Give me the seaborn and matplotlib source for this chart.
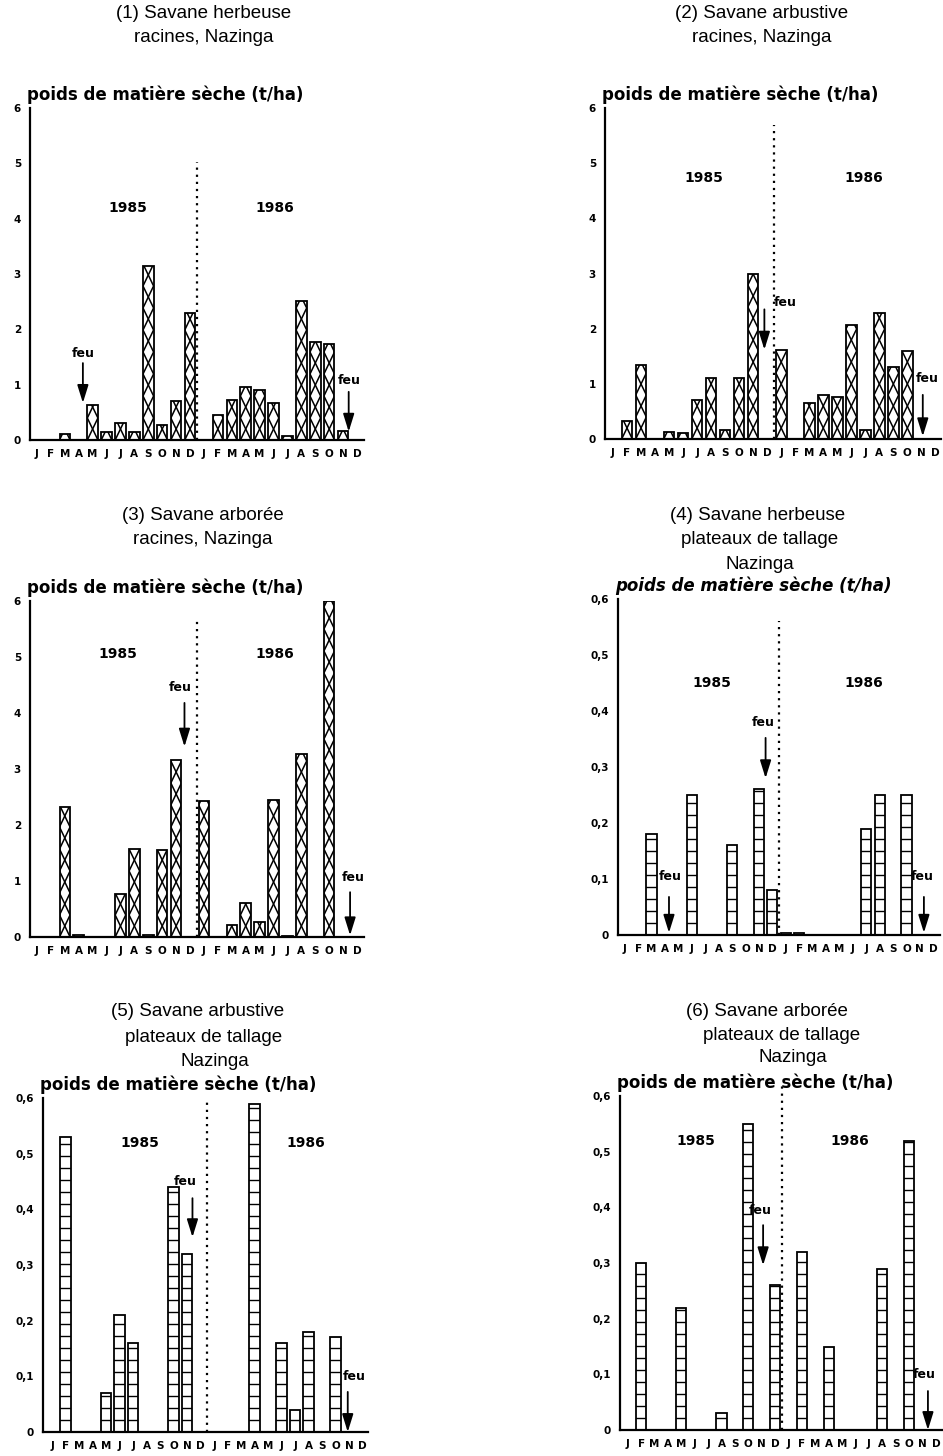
import matplotlib
matplotlib.use("Agg")
import matplotlib.pyplot as plt
import numpy as np
import pandas as pd
import seaborn as sns

# month labels, two years side by side
MONTHS = ["J", "F", "M", "A", "M", "J", "J", "A", "S", "O", "N", "D"] * 2
YEARS = ["1985", "1986"]
YLABEL = "poids de matière sèche (t/ha)"
YTICKS_ROOTS = ["0", "1", "2", "3", "4", "5", "6"]
YTICKS_TILLERS = ["0", "0,1", "0,2", "0,3", "0,4", "0,5", "0,6"]

# dry matter (t/ha), Jan 1985 .. Dec 1986
roots_herb = [0, 0, 0.10, 0, 0.64, 0.15, 0.30, 0.15, 3.14, 0.27, 0.70, 2.29,
              0, 0.46, 0.73, 0.95, 0.91, 0.66, 0.07, 2.52, 1.77, 1.74, 0.17, 0]
roots_shrub = [0, 0.33, 1.35, 0, 0.13, 0.11, 0.70, 1.10, 0.17, 1.11, 3.00, 0,
               1.62, 0, 0.65, 0.79, 0.76, 2.07, 0.16, 2.28, 1.31, 1.60, 0, 0]
roots_tree = [0, 0, 2.33, 0.03, 0, 0, 0.76, 1.58, 0.03, 1.55, 3.16, 0,
              2.43, 0, 0.22, 0.60, 0.27, 2.44, 0.02, 3.26, 0, 6.00, 0, 0]
tillers_herb = [0, 0, 0.18, 0, 0, 0.25, 0, 0, 0.16, 0, 0.26, 0.08,
                0.004, 0.004, 0, 0, 0, 0, 0.19, 0.25, 0, 0.25, 0, 0]
tillers_shrub = [0, 0.53, 0, 0, 0.07, 0.21, 0.16, 0, 0, 0.44, 0.32, 0,
                 0, 0, 0, 0.59, 0, 0.16, 0.04, 0.18, 0, 0.17, 0, 0]
tillers_tree = [0, 0.30, 0, 0, 0.22, 0, 0, 0.03, 0, 0.55, 0, 0.26,
                0, 0.32, 0, 0.15, 0, 0, 0, 0.29, 0, 0.52, 0, 0]

sns.set_theme(style="white")
plt.rcParams["font.family"] = ["Liberation Sans", "DejaVu Sans"]

W, H = 943, 1456
fig = plt.figure(figsize=(W / 100, H / 100), dpi=100)

# layout in pixels: box = (left, right, top, bottom) of the axes
panels = [
    dict(values=roots_herb, box=(30, 364, 108, 440), xlim=(-0.5, 23.5), ymax=6,
         kind="cross", italic=False,
         title=[("(1) Savane herbeuse", 204, 13), ("racines, Nazinga", 204, 38)],
         years=[(6.5, 4.2), (17.1, 4.2)], divider=5.03,
         feu=[(3.3, 1.57, 1.39, 0.67), (22.4, 1.08, 0.87, 0.15)]),
    dict(values=roots_shrub, box=(605, 941, 108, 439), xlim=(-0.57, 23.4), ymax=6,
         kind="cross", italic=False,
         title=[("(2) Savane arbustive", 762, 13), ("racines, Nazinga", 762, 38)],
         years=[(6.5, 4.74), (17.9, 4.74)], divider=5.7,
         feu=[(12.25, 2.47, 2.35, 1.62, 10.8), (22.4, 1.1, 0.8, 0.05, 22.1)]),
    dict(values=roots_tree, box=(30, 364, 601, 937), xlim=(-0.5, 23.5), ymax=6,
         kind="cross", italic=False,
         title=[("(3) Savane arborée", 203, 515), ("racines, Nazinga", 203, 540)],
         years=[(5.8, 5.05), (17.1, 5.05)], divider=5.7,
         feu=[(10.3, 4.45, 4.18, 3.40, 10.6), (22.7, 1.07, 0.8, 0.03, 22.5)]),
    dict(values=tillers_herb, box=(618, 940, 599, 935), xlim=(-0.5, 23.5), ymax=0.6,
         kind="square", italic=True,
         title=[("(4) Savane herbeuse", 758, 515), ("plateaux de tallage", 760, 540),
                ("Nazinga", 760, 565)],
         years=[(6.5, 0.45), (17.8, 0.45)], divider=0.56,
         feu=[(3.4, 0.105, 0.068, 0.004, 3.3), (10.3, 0.38, 0.352, 0.28, 10.5),
              (22.2, 0.105, 0.068, 0.004, 22.3)]),
    dict(values=tillers_shrub, box=(43, 368, 1098, 1432), xlim=(-0.67, 23.4), ymax=0.6,
         kind="square", italic=False,
         title=[("(5) Savane arbustive", 198, 1012), ("plateaux de tallage", 204, 1037),
                ("Nazinga", 215, 1062)],
         years=[(6.5, 0.52), (18.8, 0.52)], divider=0.6,
         feu=[(9.85, 0.45, 0.42, 0.35, 10.4), (22.35, 0.1, 0.072, 0.0, 21.9)]),
    dict(values=tillers_tree, box=(620, 942, 1096, 1430), xlim=(-0.58, 23.45), ymax=0.6,
         kind="square", italic=False,
         title=[("(6) Savane arborée", 767, 1011), ("plateaux de tallage", 782, 1035),
                ("Nazinga", 793, 1058)],
         years=[(5.1, 0.52), (16.6, 0.52)], divider=0.624,
         feu=[(9.9, 0.395, 0.368, 0.296, 10.1), (22.1, 0.1, 0.07, 0.0, 22.4)]),
]

BOLD = dict(family="DejaVu Sans", fontweight="bold", color="black")


def hatch_bars(ax, kind, cell):
    # draw the diamond chain / stacked squares inside every bar
    for p in list(ax.patches):
        x0, w, h = p.get_x(), p.get_width(), p.get_height()
        if h <= 0:
            continue
        n = int(np.ceil(h / cell)) + 1
        ys = np.arange(n + 1) * cell
        if kind == "cross":
            even = np.arange(n + 1) % 2 == 0
            for xs in (np.where(even, x0, x0 + w), np.where(even, x0 + w, x0)):
                (line,) = ax.plot(xs, ys, color="black", lw=1.1, zorder=3)
                line.set_clip_path(p)
        else:
            for y in ys[1:]:
                (line,) = ax.plot([x0, x0 + w], [y, y], color="black", lw=1.0, zorder=3)
                line.set_clip_path(p)


for spec in panels:
    left, right, top, bottom = spec["box"]
    ax = fig.add_axes([left / W, 1 - bottom / H, (right - left) / W, (bottom - top) / H])

    df = pd.DataFrame({"month": range(24), "value": spec["values"]})
    df = df[df["value"] > 0]
    sns.barplot(data=df, x="month", y="value", order=list(range(24)), color="white",
                saturation=1, edgecolor="black", linewidth=1.3, width=0.76,
                errorbar=None, ax=ax)

    ymax = spec["ymax"]
    cell_px = 22 if spec["kind"] == "cross" else 12
    hatch_bars(ax, spec["kind"], cell_px / (bottom - top) * ymax)

    ax.set_xlim(*spec["xlim"])
    ax.set_ylim(0, ymax)
    ax.set_xlabel("")
    ax.set_ylabel("")
    ax.set_facecolor("none")
    ax.set_xticks(range(24))
    ax.set_xticklabels(MONTHS, fontsize=7.5, **BOLD)
    ax.set_yticks(np.linspace(0, ymax, 7))
    ax.set_yticklabels(YTICKS_ROOTS if ymax > 1 else YTICKS_TILLERS, fontsize=7.5, **BOLD)
    ax.tick_params(axis="both", direction="inout", length=7, width=1.2, color="black", pad=3)
    for side in ("top", "right"):
        ax.spines[side].set_visible(False)
    for side in ("left", "bottom"):
        ax.spines[side].set_color("black")
        ax.spines[side].set_linewidth(1.6)

    ax.annotate(YLABEL, xy=(0, 1), xycoords="axes fraction", xytext=(-3, 13),
                textcoords="offset pixels", ha="left", va="center", fontsize=12,
                style="italic" if spec["italic"] else "normal", **BOLD)

    # dotted separation between the two years
    ax.plot([11.5, 11.5], [0, spec["divider"]], ls=(0, (1, 2.2)), color="black",
            lw=1.6, clip_on=False, zorder=4)

    for year, (x, y) in zip(YEARS, spec["years"]):
        ax.text(x, y, year, ha="center", va="center", fontsize=10, **BOLD)

    for item in spec["feu"]:
        tx, ty, y0, y1 = item[:4]
        ax_x = item[4] if len(item) > 4 else tx
        ax.text(tx, ty, "feu", ha="center", va="center", fontsize=9, **BOLD)
        ax.annotate("", xy=(ax_x, y1), xytext=(ax_x, y0), annotation_clip=False,
                    arrowprops=dict(arrowstyle="-|>,head_length=0.9,head_width=0.28",
                                    color="black", lw=1.3, shrinkA=0, shrinkB=0))

    for text, cx, cy in spec["title"]:
        fig.text(cx / W, 1 - cy / H, text, ha="center", va="center", fontsize=13.5,
                 color="black")

fig.savefig("out.png", dpi=100, facecolor="white")
